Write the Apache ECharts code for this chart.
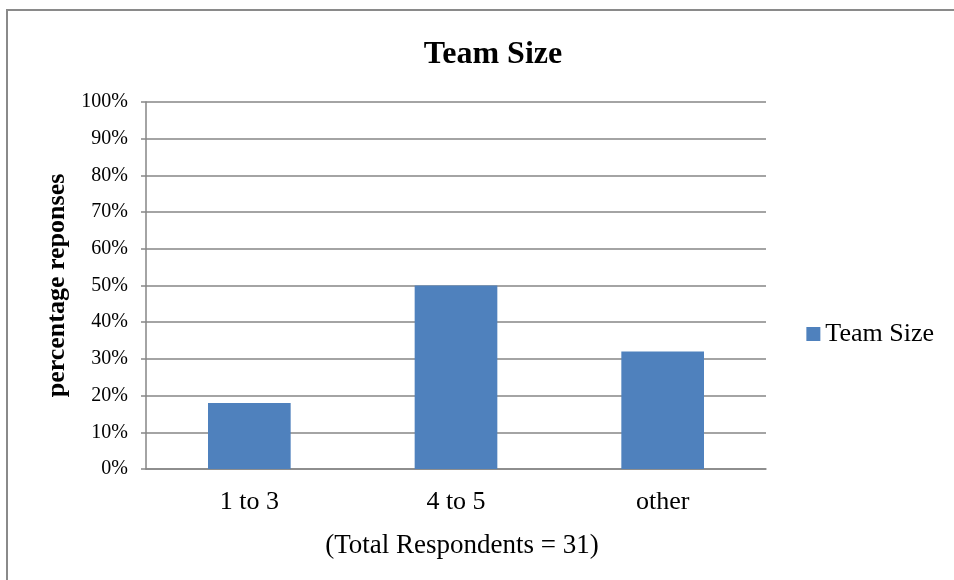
<!DOCTYPE html>
<html>
<head>
<meta charset="utf-8">
<script src="https://cdn.jsdelivr.net/npm/echarts@6/dist/echarts.min.js"></script>
<style>html,body{margin:0;padding:0;background:#fff;}#c{width:954px;height:580px;}</style>
</head>
<body>
<div id="c"></div>
<script>
var categories = ['1 to 3', '4 to 5', 'other'];
var values = [18, 50, 32];
var seriesName = 'Team Size';
var titleText = 'Team Size';
var subtitleText = '(Total Respondents = 31)';
var yAxisName = 'percentage reponses';

var chart = echarts.init(document.getElementById('c'), null, {renderer: 'canvas'});
var serif = '"Liberation Serif", "DejaVu Serif", serif';
chart.setOption({
  animation: false,
  backgroundColor: '#fff',
  title: [
    {text: titleText, left: 488, top: 34, textAlign: 'center',
     textStyle: {fontFamily: serif, fontSize: 32, fontWeight: 'bold', color: '#000'}},
    {text: subtitleText, left: 457, top: 527, textAlign: 'center',
     textStyle: {fontFamily: serif, fontSize: 27, fontWeight: 'normal', color: '#000'}}
  ],
  legend: {
    right: 15, top: 316, orient: 'vertical',
    icon: 'rect', itemWidth: 14, itemHeight: 14, itemGap: 8,
    textStyle: {fontFamily: serif, fontSize: 26, color: '#000'},
    data: [seriesName]
  },
  graphic: [{
    type: 'rect', shape: {x: 7, y: 10, width: 960, height: 590},
    style: {fill: 'none', stroke: '#8a8a8a', lineWidth: 2}, silent: true
  }],
  grid: {left: 146, right: 188, top: 102, bottom: 111, containLabel: false},
  xAxis: {
    type: 'category', data: categories,
    axisLine: {lineStyle: {color: '#868686', width: 1.5}},
    axisTick: {show: false},
    axisLabel: {fontFamily: serif, fontSize: 26, color: '#000', margin: 20}
  },
  yAxis: {
    type: 'value', min: 0, max: 100, interval: 10,
    name: yAxisName, nameLocation: 'middle', nameGap: 71, nameRotate: 90,
    nameTextStyle: {fontFamily: serif, fontSize: 26, fontWeight: 'bold', color: '#000'},
    axisLine: {show: true, lineStyle: {color: '#868686', width: 1.5}},
    axisTick: {show: true, length: 5, lineStyle: {color: '#868686', width: 1.5}},
    splitLine: {lineStyle: {color: '#868686', width: 1.5}},
    axisLabel: {fontFamily: serif, fontSize: 20, color: '#000', margin: 18,
      formatter: function (v) { return v + '%'; }}
  },
  series: [{
    name: seriesName, type: 'bar', data: values,
    barWidth: '40%',
    itemStyle: {color: '#4f81bd'}
  }]
});
</script>
</body>
</html>
